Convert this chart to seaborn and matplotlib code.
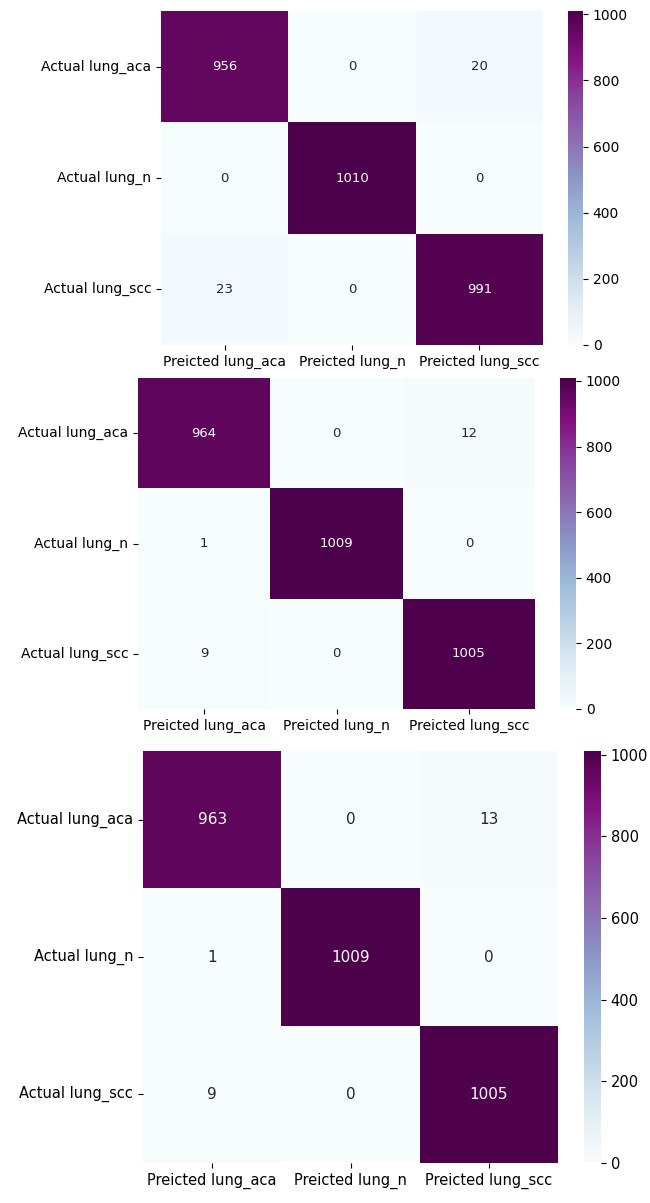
import numpy as np
import pandas as pd
import seaborn as sns
from matplotlib import pyplot as plt

# class labels
row_labels = ["Actual lung_aca", "Actual lung_n", "Actual lung_scc"]
col_labels = ["Preicted lung_aca", "Preicted lung_n", "Preicted lung_scc"]

# confusion matrices for the three models (top to bottom)
cm_first = [[956, 0, 20],
            [0, 1010, 0],
            [23, 0, 991]]
cm_second = [[964, 0, 12],
             [1, 1009, 0],
             [9, 0, 1005]]
cm_third = [[963, 0, 13],
            [1, 1009, 0],
            [9, 0, 1005]]

plt.rcParams['font.family'] = ['DejaVu Sans']

W, H = 650, 1203
fig = plt.figure(figsize=(W / 100, H / 100), dpi=100)


def box(x0, x1, y0, y1):
    # pixel box -> figure fraction
    return [x0 / W, 1 - y1 / H, (x1 - x0) / W, (y1 - y0) / H]


# (matrix, heatmap box, colorbar box, label size, annotation size)
layouts = [
    (cm_first, box(161, 543, 11, 345), box(568, 583, 11, 345), 10, 9.5),
    (cm_second, box(138, 535, 378, 709), box(560, 576, 378, 709), 10, 9.5),
    (cm_third, box(143, 558, 751, 1163), box(584, 601, 751, 1163), 10.5, 11),
]

for cm, ax_box, cb_box, fs, afs in layouts:
    df = pd.DataFrame(cm, index=row_labels, columns=col_labels)
    ax = fig.add_axes(ax_box)
    cax = fig.add_axes(cb_box)
    sns.heatmap(df, annot=True, fmt="d", cmap="BuPu", ax=ax, cbar_ax=cax,
                annot_kws={"fontsize": afs})
    ax.tick_params(labelsize=fs)
    ax.set_yticklabels(ax.get_yticklabels(), rotation=0)
    ax.set_xticklabels(ax.get_xticklabels(), rotation=0)
    cax.tick_params(labelsize=fs)

fig.savefig("out.png", dpi=100)
